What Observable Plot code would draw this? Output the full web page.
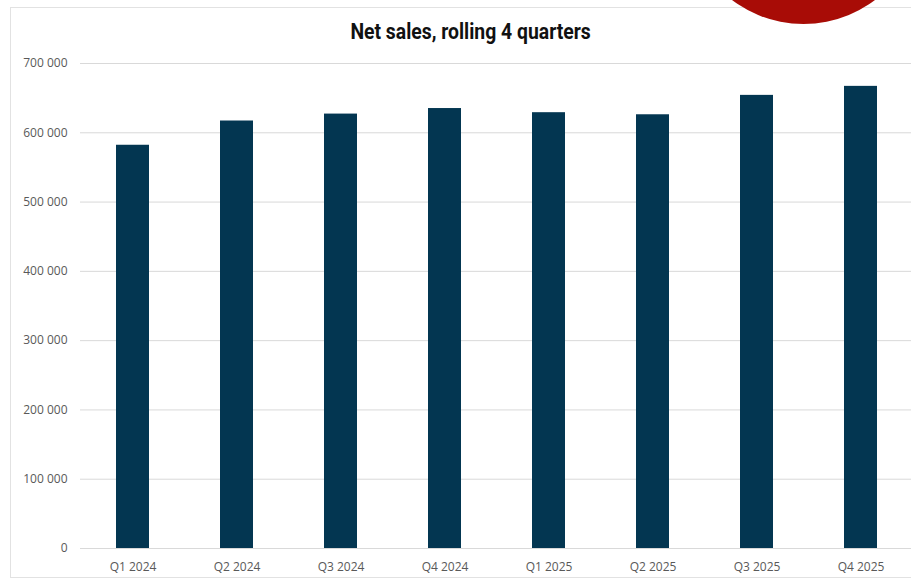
<!DOCTYPE html>
<html>
<head>
<meta charset="utf-8">
<script src="https://cdn.jsdelivr.net/npm/d3@7"></script>
<script src="https://cdn.jsdelivr.net/npm/@observablehq/plot@0.6"></script>
<style>
  html, body { margin: 0; padding: 0; background: #fff; }
  #wrap { position: relative; width: 911px; height: 582px; overflow: hidden; background: #fff; }
  #frame { position: absolute; left: 10px; top: 7px; width: 920px; height: 571px; border: 1px solid #e2e2e2; box-sizing: border-box; }
  #title { position: absolute; left: 0; top: 0; width: 942px; height: 50px; text-align: center; line-height: 64px;
           font-family: "Roboto", sans-serif; font-weight: bold; font-size: 22px; color: #111; }
  #title span { display: inline-block; transform: scaleX(0.88); }
  #chart { position: absolute; left: 0; top: 50px; }
  #logo { position: absolute; left: 685px; top: -213px; width: 237px; height: 237px; border-radius: 50%; background: #a80c06; }
</style>
</head>
<body>
<div id="wrap">
  <div id="frame"></div>
  <div id="title"><span>Net sales, rolling 4 quarters</span></div>
  <div id="chart"></div>
  <div id="logo"></div>
</div>
<script>
const quarters = ["Q1 2024", "Q2 2024", "Q3 2024", "Q4 2024", "Q1 2025", "Q2 2025", "Q3 2025", "Q4 2025"];
const netSales = [582000, 617000, 627000, 635000, 629000, 626000, 654000, 667000];
const yTicks = [0, 100000, 200000, 300000, 400000, 500000, 600000, 700000];

const data = quarters.map((q, i) => ({quarter: q, value: netSales[i]}));
const fmt = d => d3.format(",")(d).replace(/,/g, " ");

const chart = Plot.plot({
  width: 911,
  height: 532,
  marginLeft: 80,
  marginRight: 0,
  marginTop: 13,
  marginBottom: 34,
  style: {fontFamily: "'Open Sans', sans-serif", fontSize: "12px", color: "#595959", background: "transparent", overflow: "visible"},
  x: {domain: quarters, range: [80, 914], paddingInner: 0.68, paddingOuter: 0.34, label: null},
  y: {domain: [0, 700000], label: null},
  marks: [
    Plot.gridY(yTicks, {stroke: "#d9d9d9", strokeOpacity: 1, strokeWidth: 1}),
    Plot.barY(data, {x: "quarter", y: "value", fill: "#033651"}),
    Plot.axisY(yTicks, {tickSize: 0, tickPadding: 13, tickFormat: fmt, fill: "#595959", fontSize: 12, label: null}),
    Plot.axisX({tickSize: 0, tickPadding: 14, fill: "#595959", fontSize: 12, label: null})
  ]
});
document.getElementById("chart").appendChild(chart);
</script>
</body>
</html>
